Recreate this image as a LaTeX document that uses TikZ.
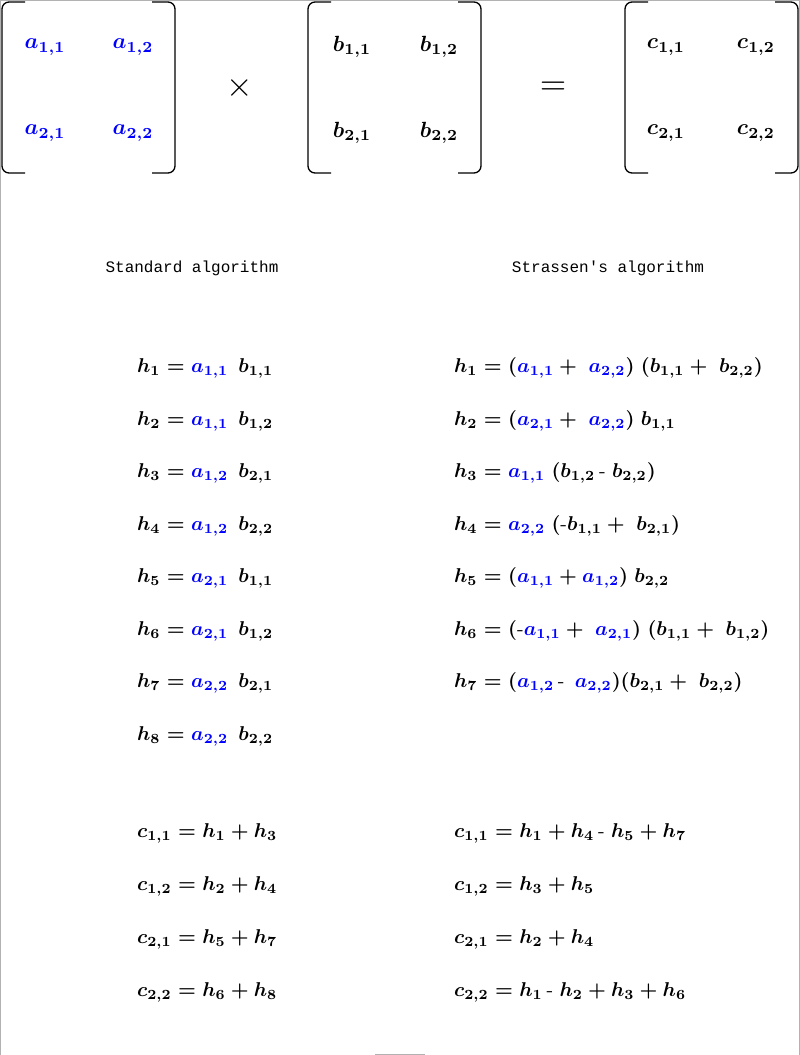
\documentclass[tikz,border=0pt]{standalone}
\usepackage{fontspec}
\setmonofont{Liberation Mono}
\begin{document}
\begin{tikzpicture}[x=1pt,y=-1pt,
  ent/.style={font=\boldmath,scale=2.2,transform shape},
  eq/.style={anchor=west,font=\boldmath,scale=2.0,transform shape},
  hd/.style={font=\ttfamily,scale=1.6,transform shape},
  br/.style={line width=1.3pt,rounded corners=7pt}]
\newcommand{\A}[1]{\textcolor{blue}{a_{#1}}}
\newcommand{\mn}{\mbox{-}}
\useasboundingbox (0,0) rectangle (800,1055);
\draw[gray!60] (0.5,1055) -- (0.5,0.5) -- (799.5,0.5) -- (799.5,1055);
\draw[gray!60] (375,1054) -- (425,1054);
% brackets
\foreach \l/\r in {2/175,308/481,625/798}{
  \draw[br] (\l+23,2) -- (\l,2) -- (\l,173) -- (\l+23,173);
  \draw[br] (\r-23,2) -- (\r,2) -- (\r,173) -- (\r-23,173);
}
\node[ent] (a11) at (45,47) {$\A{1,1}$};
\node[ent] (a12) at (133,47) {$\A{1,2}$};
\node[ent] (a21) at (45,133) {$\A{2,1}$};
\node[ent] (a22) at (133,133) {$\A{2,2}$};
\node[ent] (b11) at (352,47) {$b_{1,1}$};
\node[ent] (b12) at (439,47) {$b_{1,2}$};
\node[ent] (b21) at (352,133) {$b_{2,1}$};
\node[ent] (b22) at (439,133) {$b_{2,2}$};
\node[ent] (c11) at (666,47) {$c_{1,1}$};
\node[ent] (c12) at (756,47) {$c_{1,2}$};
\node[ent] (c21) at (666,133) {$c_{2,1}$};
\node[ent] (c22) at (756,133) {$c_{2,2}$};
\node[scale=3.4,transform shape] (times) at (240,88) {$\times$};
\node[scale=3.4,transform shape] (equals) at (553,88) {$=$};
\node[hd] (hs) at (192,268) {Standard algorithm};
\node[hd] (hst) at (608,268) {Strassen's algorithm};
% standard
\node[eq] (s1) at (130,368) {$h_1 = \A{1,1}\;\, b_{1,1}$};
\node[eq] (s2) at (130,421) {$h_2 = \A{1,1}\;\, b_{1,2}$};
\node[eq] (s3) at (130,473) {$h_3 = \A{1,2}\;\, b_{2,1}$};
\node[eq] (s4) at (130,526) {$h_4 = \A{1,2}\;\, b_{2,2}$};
\node[eq] (s5) at (130,578) {$h_5 = \A{2,1}\;\, b_{1,1}$};
\node[eq] (s6) at (130,631) {$h_6 = \A{2,1}\;\, b_{1,2}$};
\node[eq] (s7) at (130,683) {$h_7 = \A{2,2}\;\, b_{2,1}$};
\node[eq] (s8) at (130,736) {$h_8 = \A{2,2}\;\, b_{2,2}$};
% strassen
\node[eq] (t1) at (447,368) {$h_1 = (\A{1,1} +\; \A{2,2})\;(b_{1,1} +\; b_{2,2})$};
\node[eq] (t2) at (447,421) {$h_2 = (\A{2,1} +\; \A{2,2})\; b_{1,1}$};
\node[eq] (t3) at (447,473) {$h_3 = \A{1,1}\;(b_{1,2}\,\mn\; b_{2,2})$};
\node[eq] (t4) at (447,526) {$h_4 = \A{2,2}\;(\mn b_{1,1} +\; b_{2,1})$};
\node[eq] (t5) at (447,578) {$h_5 = (\A{1,1} + \A{1,2})\; b_{2,2}$};
\node[eq] (t6) at (447,631) {$h_6 = (\mn\A{1,1} +\; \A{2,1})\;(b_{1,1} +\; b_{1,2})$};
\node[eq] (t7) at (447,683) {$h_7 = (\A{1,2}\,\mn\;\, \A{2,2})(b_{2,1} +\; b_{2,2})$};
% c
\node[eq] (sc1) at (130,833) {$c_{1,1} = h_1 + h_3$};
\node[eq] (sc2) at (130,886) {$c_{1,2} = h_2 + h_4$};
\node[eq] (sc3) at (130,939) {$c_{2,1} = h_5 + h_7$};
\node[eq] (sc4) at (130,992) {$c_{2,2} = h_6 + h_8$};
\node[eq] (tc1) at (447,833) {$c_{1,1} = h_1 + h_4\,\mn\; h_5 + h_7$};
\node[eq] (tc2) at (447,886) {$c_{1,2} = h_3 + h_5$};
\node[eq] (tc3) at (447,939) {$c_{2,1} = h_2 + h_4$};
\node[eq] (tc4) at (447,992) {$c_{2,2} = h_1\,\mn\; h_2 + h_3 + h_6$};
\end{tikzpicture}
\end{document}
